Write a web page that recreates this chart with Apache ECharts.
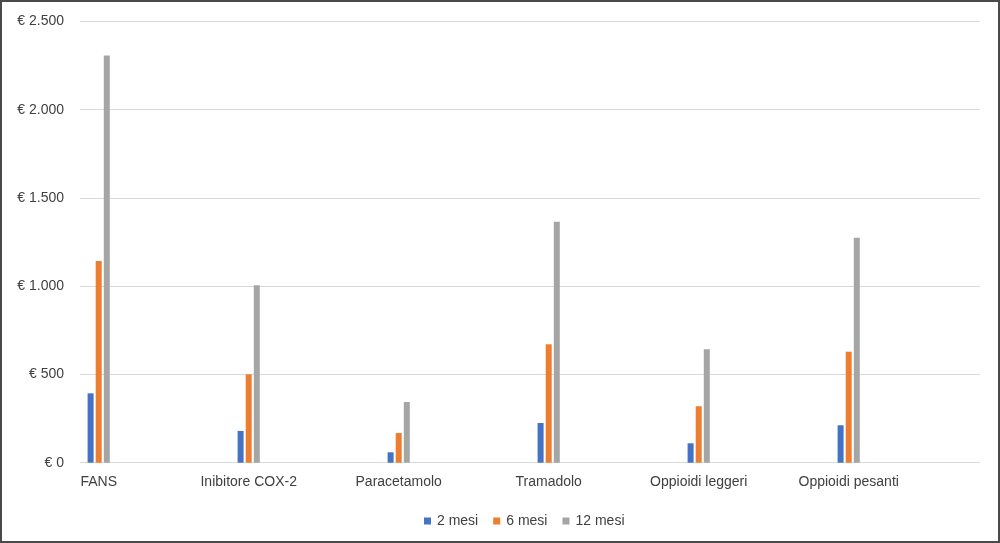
<!DOCTYPE html>
<html>
<head>
<meta charset="utf-8">
<script src="https://cdn.jsdelivr.net/npm/echarts@6/dist/echarts.min.js"></script>
<style>
html,body{margin:0;padding:0;background:#fff;}
#wrap{position:relative;width:1000px;height:543px;}
#chart{position:absolute;left:0;top:0;width:1000px;height:543px;}
#frame{position:absolute;left:0;top:0;width:1000px;height:543px;box-sizing:border-box;border:2px solid #4a4a4a;pointer-events:none;}
</style>
</head>
<body>
<div id="wrap"><div id="chart"></div><div id="frame"></div></div>
<script>
const categories = ['FANS', 'Inibitore COX-2', 'Paracetamolo', 'Tramadolo', 'Oppioidi leggeri', 'Oppioidi pesanti'];
const seriesNames = ['2 mesi', '6 mesi', '12 mesi'];
const mesi2 = [393, 180, 59, 225, 110, 212];
const mesi6 = [1143, 501, 168, 671, 320, 629];
const mesi12 = [2308, 1006, 344, 1365, 643, 1275];
const colors = ['#4472C4', '#ED7D31', '#A5A5A5'];
const yMin = 0, yMax = 2500, yStep = 500;

const font = 'Liberation Sans';
const textColor = '#404040';

function euro(v){
  const s = String(v).replace(/\B(?=(\d{3})+(?!\d))/g, '.');
  return '€ ' + s;
}

const chart = echarts.init(document.getElementById('chart'), null, {renderer:'canvas'});
const values = [mesi2, mesi6, mesi12];
chart.setOption({
  animation:false,
  backgroundColor:'#ffffff',
  textStyle:{fontFamily:font},
  legend:{
    data:seriesNames,
    left:419, top:509,
    itemWidth:7, itemHeight:7, itemGap:15,
    icon:'rect',
    textStyle:{fontFamily:font, fontSize:14, color:textColor, padding:[0,0,0,1]}
  },
  grid:[
    {left:23.7, width:900, top:21.5, height:441.2, containLabel:false},
    {left:80, width:900, top:21.5, height:441.2, containLabel:false}
  ],
  xAxis:[
    {gridIndex:0, type:'category', data:categories,
     axisLine:{show:false}, axisTick:{show:false}, splitLine:{show:false},
     axisLabel:{fontFamily:font, fontSize:14, color:textColor, margin:12, interval:0}},
    {gridIndex:1, type:'category', data:categories, show:false}
  ],
  yAxis:[
    {gridIndex:0, type:'value', min:yMin, max:yMax, interval:yStep, show:false, splitLine:{show:false}},
    {gridIndex:1, type:'value', min:yMin, max:yMax, interval:yStep,
     axisLine:{show:false}, axisTick:{show:false},
     splitLine:{lineStyle:{color:'#d9d9d9', width:1}},
     axisLabel:{fontFamily:font, fontSize:14, color:textColor, margin:16, formatter:euro}}
  ],
  series: seriesNames.map((n,i)=>({
    name:n, type:'bar', xAxisIndex:0, yAxisIndex:0,
    data:values[i], barWidth:6, barGap:'35%',
    itemStyle:{color:colors[i]}
  }))
});
</script>
</body>
</html>
